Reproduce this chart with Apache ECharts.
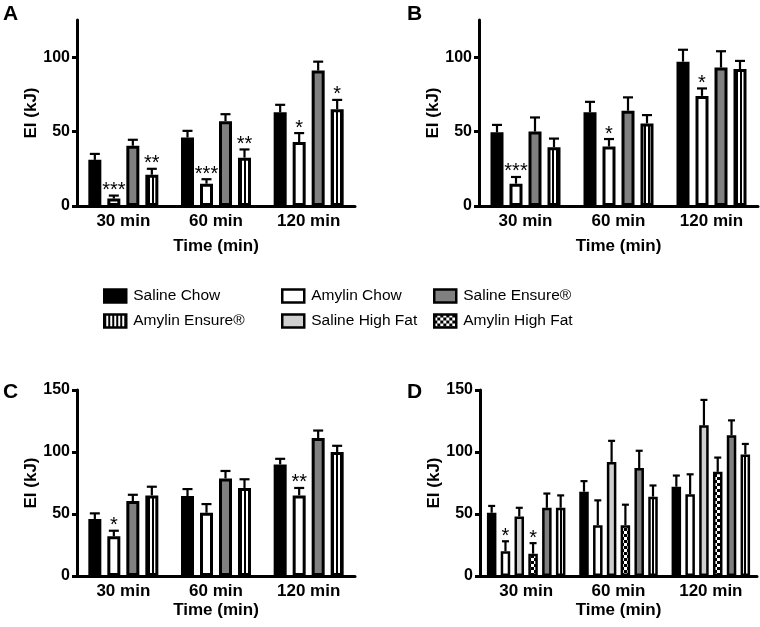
<!DOCTYPE html>
<html>
<head>
<meta charset="utf-8">
<script src="https://cdn.jsdelivr.net/npm/echarts@6/dist/echarts.min.js"></script>
<style>
html,body{margin:0;padding:0;background:#fff;}
#chart{width:760px;height:627px;}
</style>
</head>
<body>
<div id="chart"></div>
<script>
// ---------------- DATA ----------------
const categories = ['30 min', '60 min', '120 min'];
const groupsABC = ['Saline Chow', 'Amylin Chow', 'Saline Ensure®', 'Amylin Ensure®'];
const groupsD = ['Saline Chow', 'Amylin Chow', 'Saline High Fat', 'Amylin High Fat', 'Saline Ensure®', 'Amylin Ensure®'];
const yTicksAB = [0, 50, 100];
const yTicksCD = [0, 50, 100, 150];

// Panel A (rows follow groupsABC)
const aMeans = [[31, 46, 63], [5, 15, 43], [40.5, 57, 91], [21, 32.5, 65]];
const aSems  = [[4, 4.5, 5], [2, 3, 6], [4, 4.7, 6], [4, 5.5, 6.3]];
const aStars = [['', '', ''], ['***', '***', '*'], ['', '', ''], ['**', '**', '*']];

// Panel B
const bMeans = [[49.5, 63, 97], [15, 40, 74], [50, 64, 93], [39.5, 55.5, 92]];
const bSems  = [[5, 7, 8], [4.5, 5, 5], [9.5, 9, 11], [5.8, 5.6, 5.5]];
const bStars = [['', '', ''], ['***', '*', '*'], ['', '', ''], ['', '', '']];

// Panel C
const cMeans = [[46, 64.5, 90], [32, 51, 65], [60.5, 78.7, 111.3], [65, 71, 100]];
const cSems  = [[4.5, 5.6, 4.5], [4.5, 7, 6], [5, 6, 6], [7, 7, 5]];
const cStars = [['', '', ''], ['*', '', '**'], ['', '', ''], ['', '', '']];

// Panel D (rows follow groupsD)
const dMeans = [[51, 68, 72], [20, 41, 66], [48, 92, 121.5], [18, 41, 84], [55, 87, 113.5], [55, 64, 98]];
const dSems  = [[5.5, 8.5, 9], [8, 20, 16], [7, 17, 20.5], [8.5, 16.5, 11.5], [11.5, 14, 12], [10, 9, 8.5]];
const dStars = [['', '', ''], ['*', '', ''], ['', '', ''], ['*', '', ''], ['', '', ''], ['', '', '']];

// ---------------- STYLES ----------------
const FONT = '"Liberation Sans", Arial, Helvetica, sans-serif';

function stripePattern() {
  const c = document.createElement('canvas');
  c.width = 4; c.height = 4;
  const x = c.getContext('2d');
  x.fillStyle = '#fff'; x.fillRect(0, 0, 4, 4);
  x.fillStyle = '#000'; x.fillRect(0, 0, 2, 4);
  return { image: c, repeat: 'repeat' };
}
function checkerPattern() {
  const c = document.createElement('canvas');
  c.width = 6; c.height = 6;
  const x = c.getContext('2d');
  x.fillStyle = '#fff'; x.fillRect(0, 0, 6, 6);
  x.fillStyle = '#000'; x.fillRect(0, 0, 3, 3); x.fillRect(3, 3, 3, 3);
  return { image: c, repeat: 'repeat' };
}
const fills = {
  'Saline Chow': '#000000',
  'Amylin Chow': '#ffffff',
  'Saline Ensure®': '#808080',
  'Amylin Ensure®': stripePattern(),
  'Saline High Fat': '#cfcfcf',
  'Amylin High Fat': checkerPattern()
};

const panels = [
  { label: 'A', lx: 3, ly: 4, grid: { left: 77, top: 20, width: 278, height: 186 }, max: 125, ticks: yTicksAB,
    names: groupsABC, means: aMeans, sems: aSems, stars: aStars, bw: 13, gap: 6, border: 3, cap: 10, xNameGap: 32 },
  { label: 'B', lx: 407, ly: 4, grid: { left: 479, top: 20, width: 279, height: 186 }, max: 125, ticks: yTicksAB,
    names: groupsABC, means: bMeans, sems: bSems, stars: bStars, bw: 13, gap: 6, border: 3, cap: 10, xNameGap: 32 },
  { label: 'C', lx: 3, ly: 382, grid: { left: 77, top: 390, width: 278, height: 186 }, max: 150, ticks: yTicksCD,
    names: groupsABC, means: cMeans, sems: cSems, stars: cStars, bw: 13, gap: 6, border: 3, cap: 10, xNameGap: 26 },
  { label: 'D', lx: 407, ly: 382, grid: { left: 480, top: 390, width: 277, height: 186 }, max: 150, ticks: yTicksCD,
    names: groupsD, means: dMeans, sems: dSems, stars: dStars, bw: 9.5, gap: 4.3, border: 2.5, cap: 7, xNameGap: 26 }
];

const grids = [], xAxes = [], yAxes = [], series = [], graphics = [];

panels.forEach((p, pi) => {
  grids.push(Object.assign({ containLabel: false }, p.grid));
  xAxes.push({
    type: 'category', gridIndex: pi, data: categories,
    axisLine: { lineStyle: { color: '#000', width: 3 } },
    axisTick: { show: false },
    axisLabel: { color: '#000', fontFamily: FONT, fontWeight: 'bold', fontSize: 17, margin: 7 },
    name: 'Time (min)', nameLocation: 'middle', nameGap: p.xNameGap,
    nameTextStyle: { color: '#000', fontFamily: FONT, fontWeight: 'bold', fontSize: 17 }
  });
  yAxes.push({
    type: 'value', gridIndex: pi, min: 0, max: p.max, interval: 50,
    splitLine: { show: false },
    axisLine: { show: true, lineStyle: { color: '#000', width: 3 } },
    axisTick: { show: true, length: 5, lineStyle: { color: '#000', width: 3 }, customValues: p.ticks },
    axisLabel: { color: '#000', fontFamily: FONT, fontWeight: 'bold', fontSize: 16, margin: 7, customValues: p.ticks },
    name: 'EI (kJ)', nameLocation: 'middle', nameGap: 32, nameRotate: 90,
    nameTextStyle: { color: '#000', fontFamily: FONT, fontWeight: 'bold', fontSize: 17 }
  });
  p.names.forEach((nm, si) => {
    series.push({
      type: 'bar', name: nm, xAxisIndex: pi, yAxisIndex: pi,
      data: p.means[si], barWidth: p.bw, barGap: (p.gap / p.bw * 100) + '%',
      itemStyle: { color: fills[nm], borderColor: '#000', borderWidth: p.border },
      emphasis: { disabled: true }, silent: true, animation: false, z: 2
    });
  });
  const items = [];
  p.names.forEach((nm, si) => {
    categories.forEach((c, ci) => {
      items.push({ s: si, c: ci, mean: p.means[si][ci], sem: p.sems[si][ci], star: p.stars[si][ci] });
    });
  });
  const n = p.names.length;
  const total = n * p.bw + (n - 1) * p.gap;
  series.push({
    type: 'custom', xAxisIndex: pi, yAxisIndex: pi, silent: true, animation: false, z: 5,
    data: items.map(it => [it.c, it.mean + it.sem]),
    renderItem: function (params, api) {
      const it = items[params.dataIndex];
      const base = api.coord([it.c, it.mean]);
      const top = api.coord([it.c, it.mean + it.sem]);
      const x = base[0] - total / 2 + it.s * (p.bw + p.gap) + p.bw / 2;
      const children = [
        { type: 'line', shape: { x1: x, y1: base[1], x2: x, y2: top[1] }, style: { stroke: '#000', lineWidth: 2.2 } },
        { type: 'line', shape: { x1: x - p.cap / 2, y1: top[1], x2: x + p.cap / 2, y2: top[1] }, style: { stroke: '#000', lineWidth: 2.2 } }
      ];
      if (it.star) {
        children.push({ type: 'text', style: { text: it.star, x: x, y: top[1] + 5, align: 'center', verticalAlign: 'bottom',
          font: '20px ' + FONT, fill: '#000' } });
      }
      return { type: 'group', children: children };
    }
  });
  graphics.push({ type: 'text', left: p.lx, top: p.ly,
    style: { text: p.label, font: 'bold 21px ' + FONT, fill: '#000' } });
});

const legendBase = {
  orient: 'vertical', top: 283, itemGap: 9, itemWidth: 22, itemHeight: 13, icon: 'rect',
  itemStyle: { borderColor: '#000', borderWidth: 2.5 },
  textStyle: { color: '#000', fontFamily: FONT, fontSize: 15.5, padding: [0, 0, 0, 2] },
  selectedMode: false
};
const legends = [
  Object.assign({}, legendBase, { left: 98, data: ['Saline Chow', 'Amylin Ensure®'] }),
  Object.assign({}, legendBase, { left: 276, data: ['Amylin Chow', 'Saline High Fat'] }),
  Object.assign({}, legendBase, { left: 428, data: ['Saline Ensure®', 'Amylin High Fat'] })
];

const chart = echarts.init(document.getElementById('chart'), null, { renderer: 'canvas' });
chart.setOption({
  backgroundColor: '#fff',
  animation: false,
  grid: grids, xAxis: xAxes, yAxis: yAxes, series: series,
  legend: legends, graphic: graphics
});
</script>
</body>
</html>
